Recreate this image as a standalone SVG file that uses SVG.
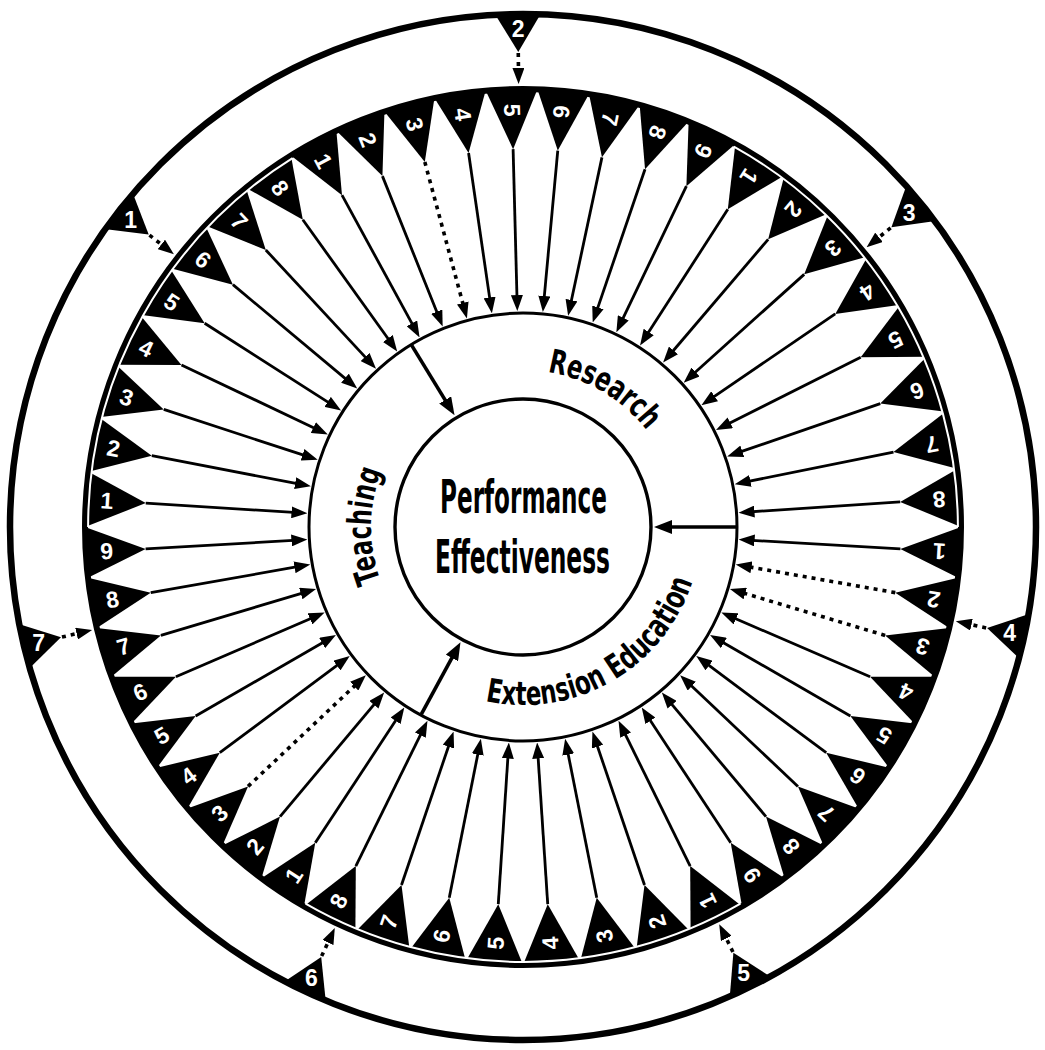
<svg xmlns="http://www.w3.org/2000/svg" width="1045" height="1050" viewBox="0 0 1045 1050">
<style>
.lbl{fill:#fff;font-family:"Liberation Sans",Arial,sans-serif;font-weight:bold;font-size:23px;text-anchor:middle;dominant-baseline:central}
.spk{stroke:#000;stroke-width:2.8;fill:none}
.dot{stroke:#000;stroke-width:3.6;stroke-dasharray:4 5;fill:none}
.div{stroke:#000;stroke-width:3.6;fill:none}
.sec{font-family:"Liberation Sans Narrow","DejaVu Sans Condensed","Liberation Sans",sans-serif;font-weight:bold;font-size:33px;fill:#000}
.ttl{font-family:"Liberation Sans Narrow","DejaVu Sans Condensed","Liberation Sans",sans-serif;font-weight:bold;font-size:46px;fill:#000;text-anchor:middle}
.ln{fill:none;stroke:#000}
.wa{fill:none;stroke:#fff;stroke-width:2}
</style>
<defs>
<marker id="ah" viewBox="0 0 16 12" refX="6" refY="6" markerWidth="16" markerHeight="12" markerUnits="userSpaceOnUse" orient="auto"><path d="M0,0 L16,6 L0,12 z" fill="#000"/></marker>
<marker id="ahL" viewBox="0 0 18 14" refX="6" refY="7" markerWidth="18" markerHeight="14" markerUnits="userSpaceOnUse" orient="auto"><path d="M0,0 L18,7 L0,14 z" fill="#000"/></marker>
<polygon id="tA" points="437.23,-25.89 378,0 437.23,25.89" fill="#000"/>
<polygon id="tB" points="437.03,-29.12 378,0 437.03,29.12" fill="#000"/>
<polygon id="tC" points="437.26,-25.47 378,0 437.26,25.47" fill="#000"/>
<polygon id="tD" points="437.06,-28.65 378,0 437.06,28.65" fill="#000"/>
<polygon id="tF" points="437.12,-27.69 378,0 437.12,27.69" fill="#000"/>
<polygon id="ot" points="511.6,-22 475,0 511.6,22" fill="#000"/>
<line id="sl" x1="378" y1="0" x2="226" y2="0" class="spk" marker-end="url(#ah)"/>
<line id="dl" x1="378" y1="0" x2="226" y2="0" class="dot" marker-end="url(#ah)"/>
<line id="oa" x1="474" y1="0" x2="453" y2="0" class="dot" marker-end="url(#ah)"/>
<line id="dv" x1="213" y1="0" x2="143" y2="0" class="div" marker-end="url(#ahL)"/>
<path id="pRes" d="M -27.26 -154.61 A 157 157 0 0 1 148.45 -51.11"/>
<path id="pTea" d="M -117.29 96.68 A 152 152 0 0 1 -115.58 -98.72"/>
<path id="pExt" d="M -60.88 167.27 A 178 178 0 0 0 175.30 30.91"/>
</defs>
<rect width="1045" height="1050" fill="#fff"/>
<g transform="translate(523 527)">
<g id="outer-ring"><circle r="513" class="ln" stroke-width="6.5"/></g>
<g id="outer-nodes">
<g id="o1" transform="rotate(218)"><use href="#ot"/><text class="lbl" x="498" transform="rotate(-218 498 0)">1</text></g>
<g id="o2" transform="rotate(269.43)"><use href="#ot"/><text class="lbl" x="498" transform="rotate(-269.43 498 0)">2</text></g>
<g id="o3" transform="rotate(320.86)"><use href="#ot"/><text class="lbl" x="498" transform="rotate(-320.86 498 0)">3</text></g>
<g id="o4" transform="rotate(12.29)"><use href="#ot"/><text class="lbl" x="498" transform="rotate(-12.29 498 0)">4</text></g>
<g id="o5" transform="rotate(63.71)"><use href="#ot"/><text class="lbl" x="498" transform="rotate(-63.71 498 0)">5</text></g>
<g id="o6" transform="rotate(115.14)"><use href="#ot"/><text class="lbl" x="498" transform="rotate(-115.14 498 0)">6</text></g>
<g id="o7" transform="rotate(166.57)"><use href="#ot"/><text class="lbl" x="498" transform="rotate(-166.57 498 0)">7</text></g>
</g>
<g id="spoke-nodes">
<g id="F1" transform="rotate(183.625)"><use href="#tF"/><text class="lbl" x="417" transform="rotate(180 417 0)">1</text></g>
<g id="F2" transform="rotate(190.875)"><use href="#tF"/><text class="lbl" x="417" transform="rotate(180 417 0)">2</text></g>
<g id="F3" transform="rotate(198.125)"><use href="#tF"/><text class="lbl" x="417" transform="rotate(180 417 0)">3</text></g>
<g id="F4" transform="rotate(205.375)"><use href="#tF"/><text class="lbl" x="417" transform="rotate(180 417 0)">4</text></g>
<g id="F5" transform="rotate(212.625)"><use href="#tF"/><text class="lbl" x="417" transform="rotate(180 417 0)">5</text></g>
<g id="F6" transform="rotate(219.875)"><use href="#tF"/><text class="lbl" x="417" transform="rotate(180 417 0)">6</text></g>
<g id="F7" transform="rotate(227.125)"><use href="#tF"/><text class="lbl" x="417" transform="rotate(180 417 0)">7</text></g>
<g id="F8" transform="rotate(234.375)"><use href="#tF"/><text class="lbl" x="417" transform="rotate(180 417 0)">8</text></g>
<g id="A1" transform="rotate(241.389)"><use href="#tA"/><text class="lbl" x="417" transform="rotate(180 417 0)">1</text></g>
<g id="A2" transform="rotate(248.167)"><use href="#tA"/><text class="lbl" x="417" transform="rotate(180 417 0)">2</text></g>
<g id="A3" transform="rotate(254.944)"><use href="#tA"/><text class="lbl" x="417" transform="rotate(180 417 0)">3</text></g>
<g id="A4" transform="rotate(261.722)"><use href="#tA"/><text class="lbl" x="417" transform="rotate(180 417 0)">4</text></g>
<g id="A5" transform="rotate(268.5)"><use href="#tA"/><text class="lbl" x="417" transform="rotate(180 417 0)">5</text></g>
<g id="A6" transform="rotate(275.278)"><use href="#tA"/><text class="lbl" x="417" transform="rotate(180 417 0)">6</text></g>
<g id="A7" transform="rotate(282.056)"><use href="#tA"/><text class="lbl" x="417" transform="rotate(180 417 0)">7</text></g>
<g id="A8" transform="rotate(288.833)"><use href="#tA"/><text class="lbl" x="417" transform="rotate(180 417 0)">8</text></g>
<g id="A9" transform="rotate(295.611)"><use href="#tA"/><text class="lbl" x="417" transform="rotate(180 417 0)">9</text></g>
<g id="B1" transform="rotate(302.81)"><use href="#tB"/><text class="lbl" x="417" transform="rotate(180 417 0)">1</text></g>
<g id="B2" transform="rotate(310.44)"><use href="#tB"/><text class="lbl" x="417" transform="rotate(180 417 0)">2</text></g>
<g id="B3" transform="rotate(318.06)"><use href="#tB"/><text class="lbl" x="417" transform="rotate(180 417 0)">3</text></g>
<g id="B4" transform="rotate(325.69)"><use href="#tB"/><text class="lbl" x="417" transform="rotate(180 417 0)">4</text></g>
<g id="B5" transform="rotate(333.31)"><use href="#tB"/><text class="lbl" x="417" transform="rotate(180 417 0)">5</text></g>
<g id="B6" transform="rotate(340.94)"><use href="#tB"/><text class="lbl" x="417" transform="rotate(180 417 0)">6</text></g>
<g id="B7" transform="rotate(348.56)"><use href="#tB"/><text class="lbl" x="417" transform="rotate(180 417 0)">7</text></g>
<g id="B8" transform="rotate(356.19)"><use href="#tB"/><text class="lbl" x="417" transform="rotate(180 417 0)">8</text></g>
<g id="C1" transform="rotate(3.333)"><use href="#tC"/><text class="lbl" x="417" transform="rotate(180 417 0)">1</text></g>
<g id="C2" transform="rotate(10)"><use href="#tC"/><text class="lbl" x="417" transform="rotate(180 417 0)">2</text></g>
<g id="C3" transform="rotate(16.667)"><use href="#tC"/><text class="lbl" x="417" transform="rotate(180 417 0)">3</text></g>
<g id="C4" transform="rotate(23.333)"><use href="#tC"/><text class="lbl" x="417" transform="rotate(180 417 0)">4</text></g>
<g id="C5" transform="rotate(30)"><use href="#tC"/><text class="lbl" x="417" transform="rotate(180 417 0)">5</text></g>
<g id="C6" transform="rotate(36.667)"><use href="#tC"/><text class="lbl" x="417" transform="rotate(180 417 0)">6</text></g>
<g id="C7" transform="rotate(43.333)"><use href="#tC"/><text class="lbl" x="417" transform="rotate(180 417 0)">7</text></g>
<g id="C8" transform="rotate(50)"><use href="#tC"/><text class="lbl" x="417" transform="rotate(180 417 0)">8</text></g>
<g id="C9" transform="rotate(56.667)"><use href="#tC"/><text class="lbl" x="417" transform="rotate(180 417 0)">9</text></g>
<g id="D1" transform="rotate(63.75)"><use href="#tD"/><text class="lbl" x="417" transform="rotate(180 417 0)">1</text></g>
<g id="D2" transform="rotate(71.25)"><use href="#tD"/><text class="lbl" x="417" transform="rotate(180 417 0)">2</text></g>
<g id="D3" transform="rotate(78.75)"><use href="#tD"/><text class="lbl" x="417" transform="rotate(180 417 0)">3</text></g>
<g id="D4" transform="rotate(86.25)"><use href="#tD"/><text class="lbl" x="417" transform="rotate(180 417 0)">4</text></g>
<g id="D5" transform="rotate(93.75)"><use href="#tD"/><text class="lbl" x="417" transform="rotate(180 417 0)">5</text></g>
<g id="D6" transform="rotate(101.25)"><use href="#tD"/><text class="lbl" x="417" transform="rotate(180 417 0)">6</text></g>
<g id="D7" transform="rotate(108.75)"><use href="#tD"/><text class="lbl" x="417" transform="rotate(180 417 0)">7</text></g>
<g id="D8" transform="rotate(116.25)"><use href="#tD"/><text class="lbl" x="417" transform="rotate(180 417 0)">8</text></g>
<g id="E1" transform="rotate(123.333)"><use href="#tC"/><text class="lbl" x="417" transform="rotate(180 417 0)">1</text></g>
<g id="E2" transform="rotate(130)"><use href="#tC"/><text class="lbl" x="417" transform="rotate(180 417 0)">2</text></g>
<g id="E3" transform="rotate(136.667)"><use href="#tC"/><text class="lbl" x="417" transform="rotate(180 417 0)">3</text></g>
<g id="E4" transform="rotate(143.333)"><use href="#tC"/><text class="lbl" x="417" transform="rotate(180 417 0)">4</text></g>
<g id="E5" transform="rotate(150)"><use href="#tC"/><text class="lbl" x="417" transform="rotate(180 417 0)">5</text></g>
<g id="E6" transform="rotate(156.667)"><use href="#tC"/><text class="lbl" x="417" transform="rotate(180 417 0)">6</text></g>
<g id="E7" transform="rotate(163.333)"><use href="#tC"/><text class="lbl" x="417" transform="rotate(180 417 0)">7</text></g>
<g id="E8" transform="rotate(170)"><use href="#tC"/><text class="lbl" x="417" transform="rotate(180 417 0)">8</text></g>
<g id="E9" transform="rotate(176.667)"><use href="#tC"/><text class="lbl" x="417" transform="rotate(180 417 0)">9</text></g>
</g>
<g id="ring-edge">
<circle r="438" class="ln" stroke-width="6"/>
<path class="wa" d="M -434.9 0 A 434.9 434.9 0 0 1 -230.46 -368.82"/>
<path class="wa" d="M 210.84 -380.37 A 434.9 434.9 0 0 1 434.9 0"/>
<path class="wa" d="M 217.45 376.63 A 434.9 434.9 0 0 1 -217.45 376.63"/>
</g>
<g id="sector-ring"><circle r="214" class="ln" stroke-width="3"/></g>
<g id="center-node">
<circle r="128" class="ln" stroke-width="3.4"/>
<text class="ttl" x="0.5" y="-14" textLength="167" lengthAdjust="spacingAndGlyphs">Performance</text>
<text class="ttl" x="-0.5" y="46" textLength="175" lengthAdjust="spacingAndGlyphs">Effectiveness</text>
</g>
<g id="research"><text class="sec"><textPath href="#pRes" startOffset="50%" text-anchor="middle" textLength="118" lengthAdjust="spacingAndGlyphs">Research</textPath></text></g>
<g id="teaching"><text class="sec"><textPath href="#pTea" startOffset="50%" text-anchor="middle" textLength="112" lengthAdjust="spacingAndGlyphs">Teaching</textPath></text></g>
<g id="extension"><text class="sec"><textPath href="#pExt" startOffset="50%" text-anchor="middle" textLength="262" lengthAdjust="spacingAndGlyphs">Extension Education</textPath></text></g>
<g id="connectors">
<use href="#sl" transform="rotate(183.625)"/><use href="#sl" transform="rotate(190.875)"/><use href="#sl" transform="rotate(198.125)"/><use href="#sl" transform="rotate(205.375)"/><use href="#sl" transform="rotate(212.625)"/><use href="#sl" transform="rotate(219.875)"/><use href="#sl" transform="rotate(227.125)"/><use href="#sl" transform="rotate(234.375)"/>
<use href="#sl" transform="rotate(241.389)"/><use href="#sl" transform="rotate(248.167)"/><use href="#dl" transform="rotate(254.944)"/><use href="#sl" transform="rotate(261.722)"/><use href="#sl" transform="rotate(268.5)"/><use href="#sl" transform="rotate(275.278)"/><use href="#sl" transform="rotate(282.056)"/><use href="#sl" transform="rotate(288.833)"/><use href="#sl" transform="rotate(295.611)"/>
<use href="#sl" transform="rotate(302.81)"/><use href="#sl" transform="rotate(310.44)"/><use href="#sl" transform="rotate(318.06)"/><use href="#sl" transform="rotate(325.69)"/><use href="#sl" transform="rotate(333.31)"/><use href="#sl" transform="rotate(340.94)"/><use href="#sl" transform="rotate(348.56)"/><use href="#sl" transform="rotate(356.19)"/>
<use href="#sl" transform="rotate(3.333)"/><use href="#dl" transform="rotate(10)"/><use href="#dl" transform="rotate(16.667)"/><use href="#sl" transform="rotate(23.333)"/><use href="#sl" transform="rotate(30)"/><use href="#sl" transform="rotate(36.667)"/><use href="#sl" transform="rotate(43.333)"/><use href="#sl" transform="rotate(50)"/><use href="#sl" transform="rotate(56.667)"/>
<use href="#sl" transform="rotate(63.75)"/><use href="#sl" transform="rotate(71.25)"/><use href="#sl" transform="rotate(78.75)"/><use href="#sl" transform="rotate(86.25)"/><use href="#sl" transform="rotate(93.75)"/><use href="#sl" transform="rotate(101.25)"/><use href="#sl" transform="rotate(108.75)"/><use href="#sl" transform="rotate(116.25)"/>
<use href="#sl" transform="rotate(123.333)"/><use href="#sl" transform="rotate(130)"/><use href="#dl" transform="rotate(136.667)"/><use href="#sl" transform="rotate(143.333)"/><use href="#sl" transform="rotate(150)"/><use href="#sl" transform="rotate(156.667)"/><use href="#sl" transform="rotate(163.333)"/><use href="#sl" transform="rotate(170)"/><use href="#sl" transform="rotate(176.667)"/>
<use href="#oa" transform="rotate(218)"/><use href="#oa" transform="rotate(269.43)"/><use href="#oa" transform="rotate(320.86)"/><use href="#oa" transform="rotate(12.29)"/><use href="#oa" transform="rotate(63.71)"/><use href="#oa" transform="rotate(115.14)"/><use href="#oa" transform="rotate(166.57)"/>
<use href="#dv" transform="rotate(238.5)"/><use href="#dv" transform="rotate(0)"/><use href="#dv" transform="rotate(118.5)"/>
</g>
</g>
</svg>
